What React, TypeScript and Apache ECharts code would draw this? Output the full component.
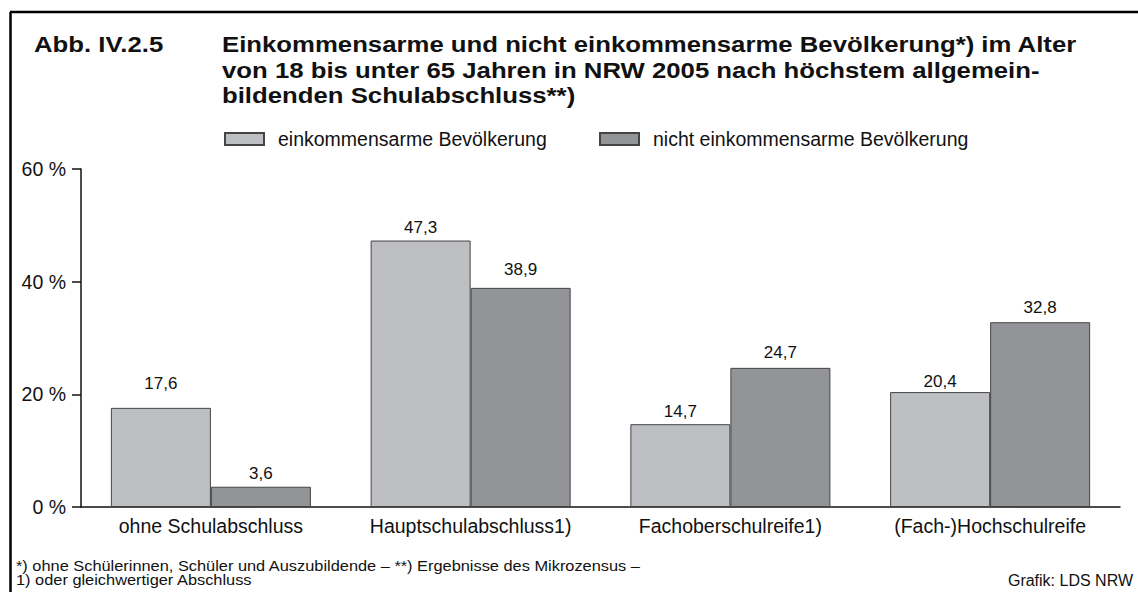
import React, { useEffect, useRef } from "react";
import * as echarts from "echarts";

const categories = ["ohne Schulabschluss", "Hauptschulabschluss1)", "Fachoberschulreife1)", "(Fach-)Hochschulreife"];
const seriesNames = ["einkommensarme Bevölkerung", "nicht einkommensarme Bevölkerung"];
const armValues = [17.6, 47.3, 14.7, 20.4];
const nichtArmValues = [3.6, 38.9, 24.7, 32.8];
const yTicks = [0, 20, 40, 60];

const titleLabel = "Abb. IV.2.5";
const titleLines = [
  "Einkommensarme und nicht einkommensarme Bevölkerung*) im Alter",
  "von 18 bis unter 65 Jahren in NRW 2005 nach höchstem allgemein-",
  "bildenden Schulabschluss**)",
];
const footnotes = [
  "*) ohne Schülerinnen, Schüler und Auszubildende – **) Ergebnisse des Mikrozensus –",
  "1) oder gleichwertiger Abschluss",
];
const source = "Grafik: LDS NRW";

// label gap above each bar (style only)
const armLabelGap = [16, 5, 4, 2.5];
const nichtArmLabelGap = [5, 10, 7, 6];

const FONT = "'Liberation Sans', Arial, sans-serif";
const colors = ["#bebfc3", "#939497"];

export default function App() {
  const ref = useRef<HTMLDivElement>(null);
  useEffect(() => {
    const chart = echarts.init(ref.current!, null, { renderer: "svg" });
    const fmt = (p: any) => String(p.value).replace(".", ",");
    const labelBase = { show: true, position: "top", fontSize: 17, color: "#111", formatter: fmt, fontFamily: FONT };
    const legendBase = {
      top: 129,
      padding: 0,
      itemWidth: 39,
      itemHeight: 12,
      icon: "rect",
      textStyle: { fontSize: 19.5, color: "#111", fontFamily: FONT, padding: [0, 0, 0, 9] },
    };
    chart.setOption({
      animation: false,
      backgroundColor: "#fff",
      textStyle: { fontFamily: FONT },
      grid: { left: 81, right: 18, top: 169, bottom: 85 },
      legend: [
        { ...legendBase, data: [seriesNames[0]], left: 224 },
        { ...legendBase, data: [seriesNames[1]], left: 599 },
      ],
      xAxis: {
        type: "category",
        data: categories,
        axisLine: { lineStyle: { color: "#111", width: 1.5 } },
        axisTick: { show: false },
        axisLabel: { fontSize: 19.5, color: "#111", margin: 9, interval: 0, fontFamily: FONT },
      },
      yAxis: {
        type: "value",
        min: yTicks[0],
        max: yTicks[yTicks.length - 1],
        interval: 20,
        axisLine: { show: true, lineStyle: { color: "#111", width: 1.5 } },
        axisTick: { show: true, length: 9, lineStyle: { color: "#111", width: 1.5 } },
        splitLine: { show: false },
        axisLabel: { fontSize: 19.5, color: "#111", margin: 15, formatter: "{value} %", fontFamily: FONT },
      },
      series: [
        {
          name: seriesNames[0],
          type: "bar",
          data: armValues.map((v, i) => ({ value: v, label: { distance: armLabelGap[i] } })),
          barWidth: 100,
          barGap: "0%",
          itemStyle: { color: colors[0], borderColor: "#444", borderWidth: 1 },
          label: labelBase,
        },
        {
          name: seriesNames[1],
          type: "bar",
          data: nichtArmValues.map((v, i) => ({ value: v, label: { distance: nichtArmLabelGap[i] } })),
          barWidth: 100,
          barGap: "0%",
          itemStyle: { color: colors[1], borderColor: "#444", borderWidth: 1 },
          label: labelBase,
        },
      ],
      graphic: [
        { type: "line", shape: { x1: 10, y1: 12, x2: 1138, y2: 12 }, style: { stroke: "#000", lineWidth: 2.5 } },
        { type: "line", shape: { x1: 10.5, y1: 12, x2: 10.5, y2: 592 }, style: { stroke: "#000", lineWidth: 2.5 } },
        {
          type: "text",
          x: 34,
          y: 44.3,
          scaleX: 1.17,
          style: { text: titleLabel, font: `bold 22px ${FONT}`, fill: "#111", verticalAlign: "middle" },
        },
        ...titleLines.map((t, i) => ({
          type: "text",
          x: 222,
          y: 44.3 + i * 25.5,
          scaleX: 1.17,
          style: { text: t, font: `bold 22px ${FONT}`, fill: "#111", verticalAlign: "middle" },
        })),
        ...footnotes.map((t, i) => ({
          type: "text",
          x: 16,
          y: 565.5 + i * 14,
          scaleX: 1.17,
          style: { text: t, font: `14px ${FONT}`, fill: "#111", verticalAlign: "middle" },
        })),
        {
          type: "text",
          x: 1133,
          y: 580.5,
          style: { text: source, font: `16px ${FONT}`, fill: "#111", verticalAlign: "middle", align: "right" },
        },
      ],
    });
    return () => chart.dispose();
  }, []);
  return <div ref={ref} style={{ width: 1138, height: 592, position: "absolute", left: 0, top: 0 }} />;
}
